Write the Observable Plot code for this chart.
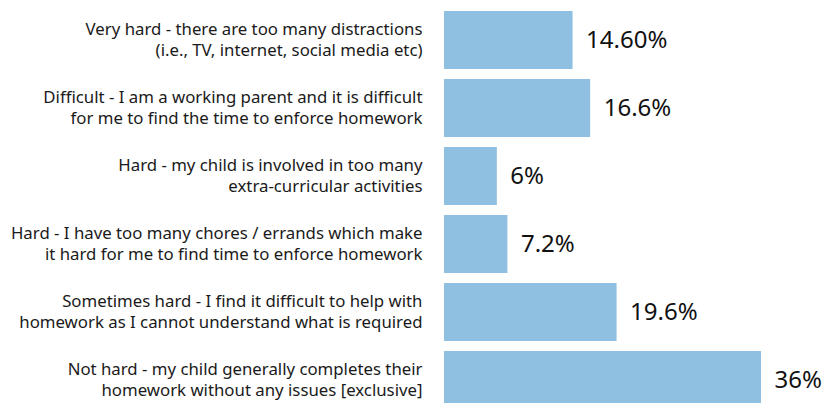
<!DOCTYPE html>
<html>
<head>
<meta charset="utf-8">
<script src="https://cdn.jsdelivr.net/npm/d3@7"></script>
<script src="https://cdn.jsdelivr.net/npm/@observablehq/plot@0.6"></script>
<style>
  html, body { margin: 0; padding: 0; background: #fff; }
  #chart { width: 824px; height: 403px; overflow: hidden; }
</style>
</head>
<body>
<div id="chart"></div>
<script>
const categories = [
  "Very hard - there are too many distractions\n(i.e., TV, internet, social media etc)",
  "Difficult - I am a working parent and it is difficult\nfor me to find the time to enforce homework",
  "Hard - my child is involved in too many\nextra-curricular activities",
  "Hard - I have too many chores / errands which make\nit hard for me to find time to enforce homework",
  "Sometimes hard - I find it difficult to help with\nhomework as I cannot understand what is required",
  "Not hard - my child generally completes their\nhomework without any issues [exclusive]"
];
const values = [14.6, 16.6, 6, 7.2, 19.6, 36];
const valueLabels = ["14.60%", "16.6%", "6%", "7.2%", "19.6%", "36%"];

const data = categories.map((c, i) => ({cat: c, value: values[i], label: valueLabels[i]}));

const plot = Plot.plot({
  width: 824,
  height: 403,
  marginLeft: 444,
  marginRight: 63,
  marginTop: 0,
  marginBottom: 0,
  style: {fontFamily: "'Noto Sans', sans-serif", color: "#1a1a1a", background: "#fff"},
  x: {domain: [0, 36], axis: null},
  y: {domain: categories, range: [6, 414], paddingInner: 10 / 68, paddingOuter: 5 / 68, axis: null},
  marks: [
    Plot.barX(data, {x: "value", y: "cat", fill: "#8fbfe1"}),
    Plot.text(data, {x: "value", y: "cat", text: "label", dx: 13, textAnchor: "start", fontSize: 24, fill: "#111"}),
    Plot.text(data, {x: d => 0, y: "cat", text: "cat", dx: -22, dy: -2, textAnchor: "end", fontSize: 16.8, lineHeight: 1.3, fill: "#1a1a1a"})
  ]
});
document.getElementById("chart").appendChild(plot);
</script>
</body>
</html>
